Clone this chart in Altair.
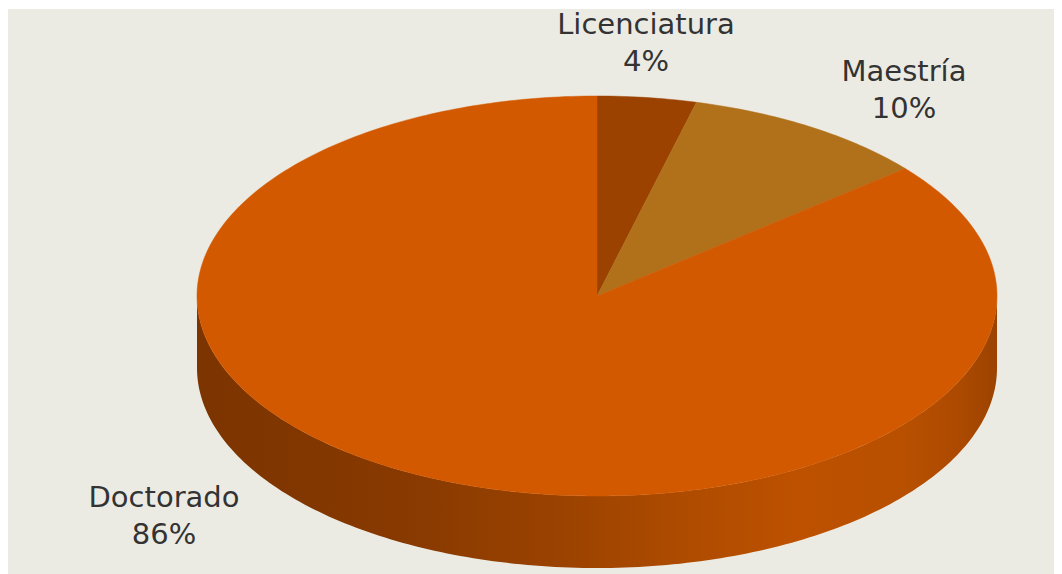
import numpy as np
import pandas as pd
import altair as alt

# Data
categories = ["Licenciatura", "Maestría", "Doctorado"]
shares = [4, 10, 86]
slice_colors = ["#9C4200", "#B0711A", "#D25900"]
label_lines = ["Licenciatura\n4%", "Maestría\n10%", "Doctorado\n86%"]

# Label anchors, in pie-radius units
label_x = [0.1225, 0.7675, -1.0825]
label_y = [1.355, 1.12, -1.01]

# Layout of the picture
W, H = 1046, 566
CX, CY = 589, 287      # pie centre inside the view, px
RX, RY = 400, 200      # radii of the top ellipse, px
DEPTH = 72 / RY        # wall height, in vertical radius units

x_scale = alt.Scale(domain=[-CX / RX, (W - CX) / RX], range=[0, W], nice=False, zero=False)
y_scale = alt.Scale(domain=[-(H - CY) / RY, CY / RY], range=[H, 0], nice=False, zero=False)
X = lambda f: alt.X(f, type="quantitative", scale=x_scale, axis=None)
Y = lambda f: alt.Y(f, type="quantitative", scale=y_scale, axis=None)

# Side wall: lower half of the ellipse, dropped by the wall height
t = np.linspace(np.pi, 2 * np.pi, 181)
wall = pd.DataFrame({"x": np.cos(t), "y": np.sin(t)})
wall["y2"] = wall["y"] - DEPTH
wall_gradient = alt.Gradient(
    gradient="linear", x1=0, x2=1, y1=0, y2=0,
    stops=[
        alt.GradientStop(offset=0.0, color="#7C3400"),
        alt.GradientStop(offset=0.25, color="#873900"),
        alt.GradientStop(offset=0.45, color="#9A4200"),
        alt.GradientStop(offset=0.60, color="#AD4B00"),
        alt.GradientStop(offset=0.75, color="#BD5100"),
        alt.GradientStop(offset=0.88, color="#B85000"),
        alt.GradientStop(offset=0.95, color="#AD4A00"),
        alt.GradientStop(offset=1.0, color="#9C4300"),
    ],
)
wall_layer = alt.Chart(wall).mark_area(color=wall_gradient, interpolate="linear").encode(
    x=X("x"), y=Y("y"), y2="y2"
)

# Top face: one sector per share, clockwise from twelve o'clock
layers = [wall_layer]
start = 0.0
for name, share, color in zip(categories, shares, slice_colors):
    end = start + share / sum(shares)
    a = np.linspace(start, end, max(8, int(share * 4))) * 2 * np.pi
    sector = pd.DataFrame({
        "x": np.r_[0.0, np.sin(a), 0.0],
        "y": np.r_[0.0, np.cos(a), 0.0],
    })
    sector["o"] = range(len(sector))
    layers.append(
        alt.Chart(sector).mark_line(fill=color, stroke=color, strokeWidth=0.5, interpolate="linear").encode(
            x=X("x"), y=Y("y"), order="o:Q"
        )
    )
    start = end

labels = pd.DataFrame({"x": label_x, "y": label_y, "text": label_lines})
layers.append(
    alt.Chart(labels).mark_text(
        font="DejaVu Sans", fontSize=29, color="#333333", align="center",
        baseline="middle", lineBreak="\n", lineHeight=37,
    ).encode(x=X("x"), y=Y("y"), text="text:N")
)

chart = (
    alt.layer(*layers)
    .properties(width=W, height=H, background="#FFFFFF",
                padding={"left": 0, "right": 0, "top": 1, "bottom": 0},
                autosize=alt.AutoSizeParams(type="none"))
    .configure_view(stroke=None, fill="#ECEBE3")
)

chart.save("out.html", embed_options={"renderer": "svg", "actions": False})
